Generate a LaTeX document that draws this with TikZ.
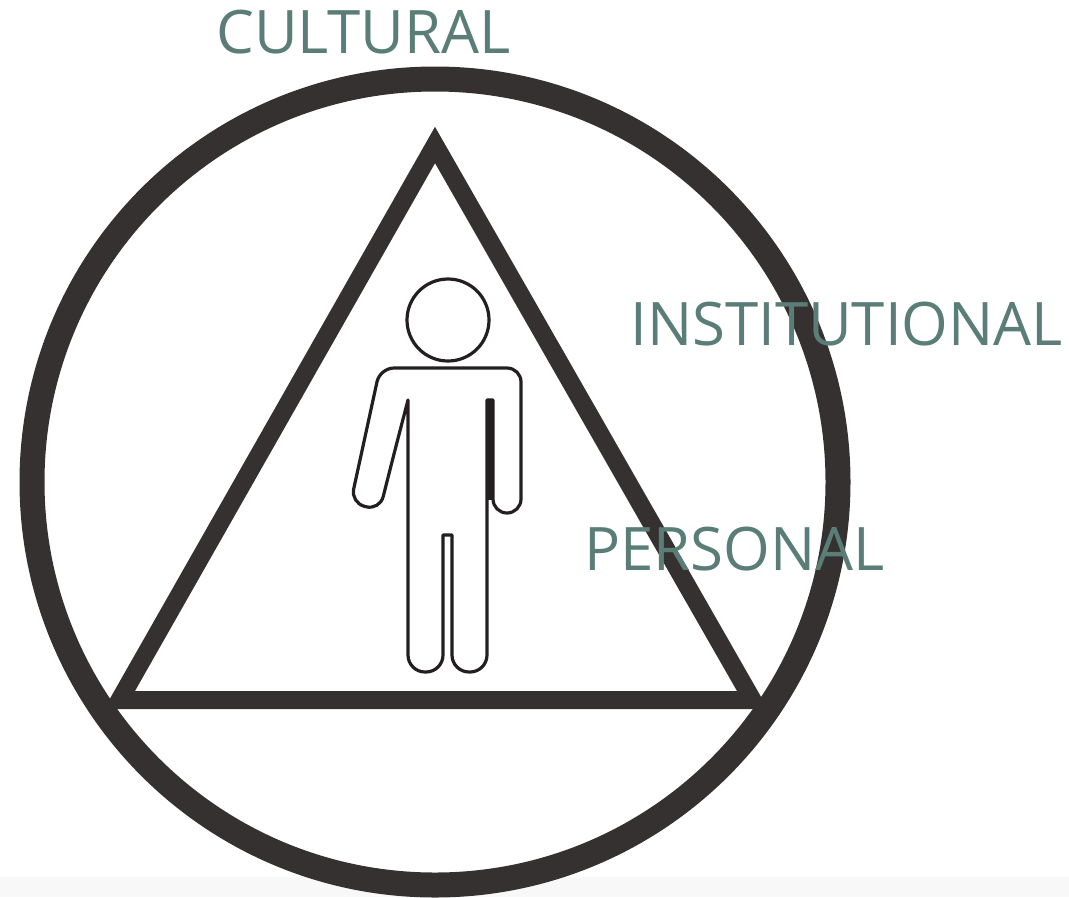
\documentclass[tikz,border=0pt]{standalone}
\usepackage{fontspec}
\usepackage{xcolor}
\setmainfont{Open Sans}
\definecolor{ringbrown}{HTML}{353130}
\definecolor{labelteal}{HTML}{5A7E77}
\definecolor{figureink}{HTML}{231F20}
\definecolor{bandgray}{HTML}{F8F8F8}

\tikzset{
    levellabel/.style={anchor=base west, inner sep=0pt, text=labelteal, font=\fontsize{45}{50}\selectfont},
    figline/.style={draw=figureink, line width=2.4pt, line join=round, fill=white}
}

\begin{document}
\begin{tikzpicture}[x=0.75pt, y=-0.75pt]
                \useasboundingbox (0,0) rectangle (1069,897);
                \fill[bandgray] (0,877) rectangle (1069,897);
                \draw[ringbrown, line width=18.75pt] (435,482) circle (403);
                \draw[ringbrown, line width=13.5pt, line join=miter] (435,145) -- (119.5,700) -- (752.5,700) -- cycle;
                \draw[figline] (408,400) -- (408,600) [rounded corners=12.75pt] -- (408,672) -- (443,672) -- (443,600) [sharp corners] -- (443,535) -- (452,535) -- (452,600)
                    [rounded corners=12.75pt] -- (452,672) -- (487,672) -- (487,600) [sharp corners] -- (487,400) -- (493,400) -- (493,470)
                    [rounded corners=10.5pt] -- (493,513) -- (521,513) -- (521,368) -- (380,368) -- (350.7,502.7) -- (379.7,510.3) -- (395,450) [sharp corners] -- cycle;
                \fill[figureink] (487,400) rectangle (493,500);
                \node[figline, circle, minimum size=61.5pt, inner sep=0pt] (head) at (448,320) {};
                \node[levellabel] (cultural) at (216,53) {CULTURAL};
                \node[levellabel] (institutional) at (630,345) {INSTITUTIONAL};
                \node[levellabel] (personal) at (584,570) {PERSONAL};
            \end{tikzpicture}
\end{document}
